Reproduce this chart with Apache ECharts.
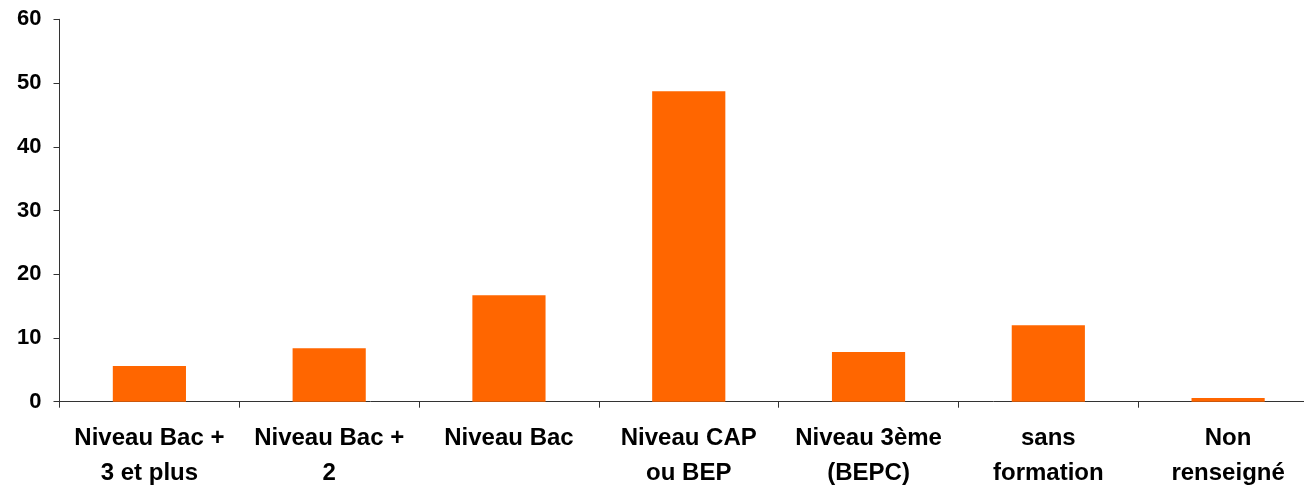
<!DOCTYPE html>
<html>
<head>
<meta charset="utf-8">
<script src="https://cdn.jsdelivr.net/npm/echarts@6/dist/echarts.min.js"></script>
<style>
html,body{margin:0;padding:0;background:#fff;}
#c{width:1304px;height:487px;}
</style>
</head>
<body>
<div id="c"></div>
<script>
const categories = ["Niveau Bac +\n3 et plus", "Niveau Bac +\n2", "Niveau Bac", "Niveau CAP\nou BEP", "Niveau 3ème\n(BEPC)", "sans\nformation", "Non\nrenseigné"];
const values = [5.6, 8.4, 16.7, 48.7, 7.8, 12.0, 0.6];
const yTicks = { min: 0, max: 60, interval: 10 };

const chart = echarts.init(document.getElementById('c'), null, { renderer: 'canvas' });
chart.setOption({
  animation: false,
  backgroundColor: '#ffffff',
  grid: { left: 59.5, right: -14, top: 19.3, bottom: 85.3, containLabel: false, outerBoundsMode: 'none' },
  xAxis: {
    type: 'category',
    data: categories,
    axisLine: { lineStyle: { color: '#333333', width: 1 } },
    axisTick: { show: true, length: 6, alignWithLabel: false, lineStyle: { color: '#333333' } },
    axisLabel: {
      interval: 0, margin: 19, color: '#000000',
      fontFamily: 'Liberation Sans, Arial, sans-serif', fontWeight: 'bold', fontSize: 24, lineHeight: 35
    },
    splitLine: { show: false }
  },
  yAxis: {
    type: 'value',
    min: yTicks.min, max: yTicks.max, interval: yTicks.interval,
    axisLine: { show: true, lineStyle: { color: '#333333', width: 1 } },
    axisTick: { show: true, length: 6, lineStyle: { color: '#333333' } },
    axisLabel: {
      margin: 18, color: '#000000',
      fontFamily: 'Liberation Sans, Arial, sans-serif', fontWeight: 'bold', fontSize: 22
    },
    splitLine: { show: false }
  },
  series: [{
    type: 'bar',
    data: values,
    barWidth: '40.7%',
    itemStyle: { color: '#FF6600' }
  }]
});
</script>
</body>
</html>
